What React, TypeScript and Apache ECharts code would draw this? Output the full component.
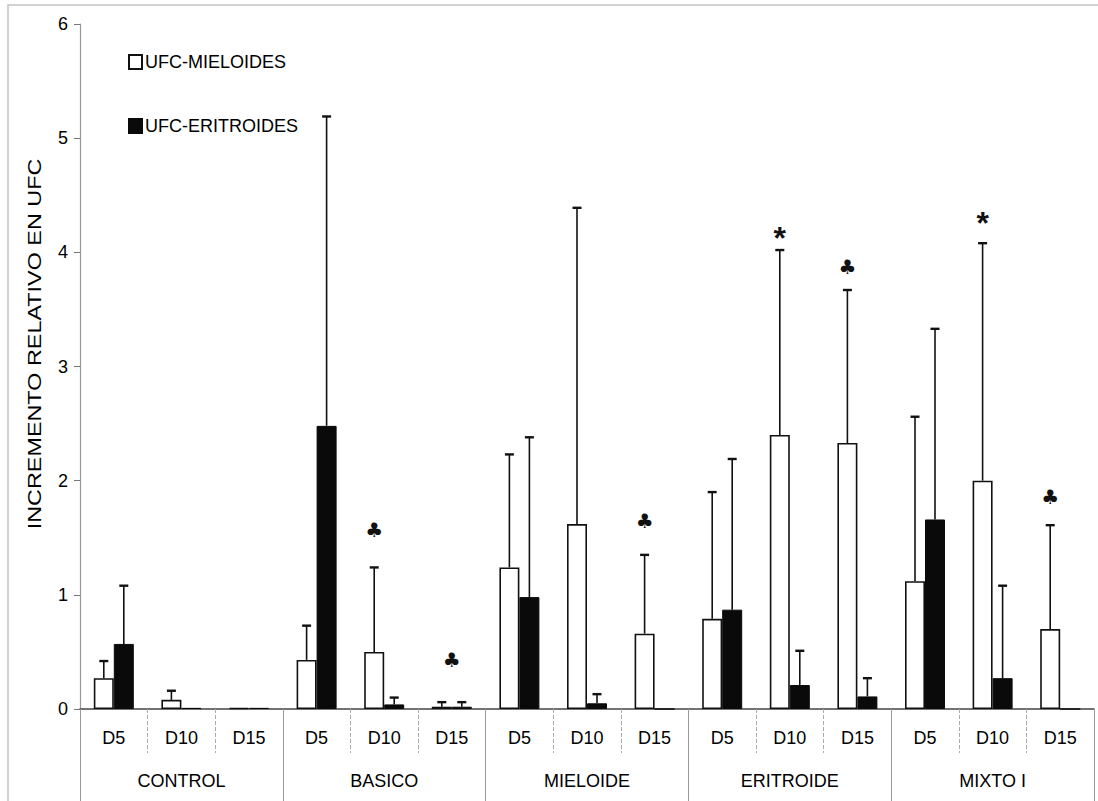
import React, { useEffect, useRef } from "react";
import * as echarts from "echarts";

// Days within each treatment group, and the groups themselves
const days = ["D5", "D10", "D15"];
const groups = ["CONTROL", "BASICO", "MIELOIDE", "ERITROIDE", "MIXTO I"];
const categories = groups.flatMap(() => days);

// Mean relative increment (UFC) per group/day
const mieloides = [0.27, 0.08, 0.01, 0.43, 0.5, 0.02, 1.24, 1.62, 0.66, 0.79, 2.4, 2.33, 1.12, 2.0, 0.7];
const eritroides = [0.57, 0.01, 0.01, 2.48, 0.04, 0.02, 0.98, 0.05, 0.0, 0.87, 0.21, 0.11, 1.66, 0.27, 0.0];

// Upper error (SD) per bar
const mieloidesSD = [0.15, 0.08, 0, 0.3, 0.74, 0.04, 0.99, 2.77, 0.69, 1.11, 1.62, 1.34, 1.44, 2.08, 0.91];
const eritroidesSD = [0.51, 0, 0, 2.71, 0.06, 0.04, 1.4, 0.08, 0, 1.32, 0.3, 0.16, 1.67, 0.81, 0];

// Significance marks: [category index, level, symbol, centred on category (1) or white bar (0)]
const marks: [number, number, string, number][] = [
  [4, 1.57, "♣", 0],
  [5, 0.43, "♣", 1],
  [8, 1.65, "♣", 0],
  [10, 4.2, "*", 0],
  [11, 3.87, "♣", 0],
  [13, 4.33, "*", 0],
  [14, 1.86, "♣", 0],
];

const yTicks = [0, 1, 2, 3, 4, 5, 6];

const FONT = "'Liberation Sans', Arial, sans-serif";
const BAR_W = 20;

function errorSeries(values: number[], sd: number[], side: number) {
  return {
    type: "custom",
    xAxisIndex: 0,
    z: 5,
    silent: true,
    data: values.map((v, i) => [i, v, sd[i]]),
    encode: { x: 0, y: 1 },
    renderItem: (params: any, api: any) => {
      const idx = api.value(0);
      const v = api.value(1);
      const e = api.value(2);
      if (!e || e <= 0) return null;
      const base = api.coord([idx, v]);
      const top = api.coord([idx, v + e]);
      const x = base[0] + side * (BAR_W / 2);
      const style = { stroke: "#111", lineWidth: 1.6 };
      return {
        type: "group",
        children: [
          { type: "line", shape: { x1: x, y1: base[1], x2: x, y2: top[1] }, style },
          { type: "line", shape: { x1: x - 4.5, y1: top[1], x2: x + 4.5, y2: top[1] }, style: { stroke: "#111", lineWidth: 2.4 } },
        ],
      };
    },
  };
}

export default function App() {
  const ref = useRef<HTMLDivElement>(null);

  useEffect(() => {
    if (!ref.current) return;
    const chart = echarts.init(ref.current, null, { renderer: "svg" });

    const option: any = {
      animation: false,
      backgroundColor: "#ffffff",
      grid: { left: 80, right: 4, top: 24, bottom: 92 },
      legend: {
        orient: "vertical",
        left: 123,
        top: 48,
        itemGap: 46,
        itemWidth: 13,
        itemHeight: 14,
        icon: "rect",
        data: ["UFC-MIELOIDES", "UFC-ERITROIDES"],
        textStyle: { fontFamily: FONT, fontSize: 18, color: "#000", padding: [0, 0, 0, -2] },
      },
      xAxis: [
        {
          type: "category",
          data: categories,
          position: "bottom",
          axisLine: { show: true, lineStyle: { color: "#444", width: 1.5 } },
          axisTick: { show: true, interval: 0, length: 44, lineStyle: { color: "#aaa", type: "dashed", width: 1 } },
          axisLabel: { interval: 0, margin: 20, fontFamily: FONT, fontSize: 18, color: "#000" },
        },
        {
          type: "category",
          data: groups,
          position: "bottom",
          axisLine: { show: false },
          axisTick: { show: true, interval: 0, length: 92, lineStyle: { color: "#999", width: 1 } },
          axisLabel: { interval: 0, margin: 63, fontFamily: FONT, fontSize: 18, color: "#000" },
        },
      ],
      yAxis: {
        type: "value",
        min: yTicks[0],
        max: yTicks[yTicks.length - 1],
        interval: 1,
        axisLine: { show: true, lineStyle: { color: "#999", width: 1.2 } },
        axisTick: { show: true, length: 6, lineStyle: { color: "#777" } },
        axisLabel: { margin: 12, fontFamily: FONT, fontSize: 18, color: "#000" },
        splitLine: { show: false },
      },
      series: [
        {
          name: "UFC-MIELOIDES",
          type: "bar",
          xAxisIndex: 0,
          barWidth: BAR_W,
          barGap: "0%",
          data: mieloides,
          itemStyle: { color: "#ffffff", borderColor: "#111", borderWidth: 1.6 },
        },
        {
          name: "UFC-ERITROIDES",
          type: "bar",
          xAxisIndex: 0,
          barWidth: BAR_W,
          barGap: "0%",
          data: eritroides,
          itemStyle: { color: "#0a0a0a", borderColor: "#0a0a0a", borderWidth: 1 },
        },
        errorSeries(mieloides, mieloidesSD, -1),
        errorSeries(eritroides, eritroidesSD, 1),
        {
          type: "custom",
          xAxisIndex: 0,
          z: 6,
          silent: true,
          data: marks.map((m) => [m[0], m[1], m[3]]),
          encode: { x: 0, y: 1 },
          renderItem: (params: any, api: any) => {
            const m = marks[params.dataIndex];
            const p = api.coord([api.value(0), api.value(1)]);
            const x = api.value(2) ? p[0] : p[0] - BAR_W / 2;
            const isStar = m[2] === "*";
            return {
              type: "text",
              x,
              y: isStar ? p[1] + 8 : p[1],
              style: {
                text: m[2],
                fill: "#111",
                fontFamily: isStar ? FONT : "'DejaVu Sans', sans-serif",
                fontSize: isStar ? 32 : 20,
                fontWeight: isStar ? "bold" : "normal",
                align: "center",
                verticalAlign: "middle",
              },
            };
          },
        },
      ],
      graphic: [
        {
          type: "rect",
          shape: { x: 8, y: 5, width: 1100, height: 810 },
          style: { fill: "none", stroke: "#c4c4c4", lineWidth: 1.5 },
          silent: true,
          z: -1,
        },
        {
          type: "text",
          x: 35,
          y: 344,
          rotation: Math.PI / 2,
          scaleX: 1.3,
          style: {
            text: "INCREMENTO RELATIVO EN UFC",
            fill: "#000",
            fontFamily: FONT,
            fontSize: 18,
            align: "center",
            verticalAlign: "middle",
          },
        },
      ],
    };

    chart.setOption(option);
    return () => chart.dispose();
  }, []);

  return (
    <div
      ref={ref}
      style={{ position: "absolute", left: 0, top: 0, width: 1098, height: 801 }}
    />
  );
}
